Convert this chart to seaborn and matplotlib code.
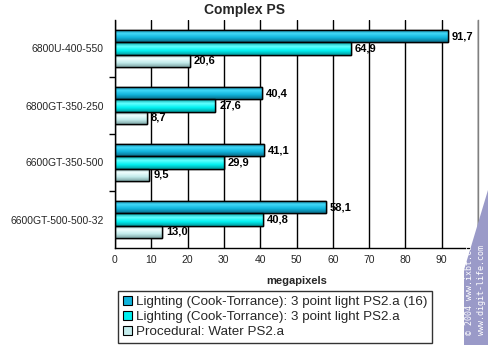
import numpy as np
import pandas as pd
import matplotlib
matplotlib.use("Agg")
import matplotlib.pyplot as plt
import seaborn as sns
from matplotlib.patches import Polygon

categories = ["6800U-400-550", "6800GT-350-250", "6600GT-350-500", "6600GT-500-500-32"]
series_names = ["Lighting (Cook-Torrance): 3 point light PS2.a (16)",
                "Lighting (Cook-Torrance): 3 point light PS2.a",
                "Procedural: Water PS2.a"]
s1 = [91.7, 40.4, 41.1, 58.1]
s2 = [64.9, 27.6, 29.9, 40.8]
s3 = [20.6, 8.7, 9.5, 13.0]
xticks = [0, 10, 20, 30, 40, 50, 60, 70, 80, 90, 100]

colors = ["#10B4DC", "#00F0F0", "#C4ECEC"]
dark = ["#0A6F8C", "#009A9E", "#7FA8A8"]
light = ["#40D8F8", "#60FFFF", "#F0FFFF"]

rows = []
for name, vals in zip(series_names, [s1, s2, s3]):
    for c, v in zip(categories, vals):
        rows.append({"cat": c, "series": name, "val": v})
df = pd.DataFrame(rows)

sns.set_theme(style="white")
plt.rcParams['font.family'] = ['Liberation Sans', 'DejaVu Sans']

fig = plt.figure(figsize=(4.88, 3.45), dpi=100)
ax = fig.add_axes([115/488, 1-248/345, 363/488, 228/345])

sns.barplot(data=df, y="cat", x="val", hue="series", order=categories,
            hue_order=series_names, palette=colors, width=0.64, orient="h",
            edgecolor="black", linewidth=1.0, ax=ax, legend=True, saturation=1)

# gradient fill inside bars
for i, cont in enumerate(ax.containers):
    cmap = matplotlib.colors.LinearSegmentedColormap.from_list(
        "g", [dark[i], light[i], colors[i], dark[i]])
    grad = np.linspace(0, 1, 64).reshape(-1, 1)
    for p in cont.patches:
        x0, y0 = p.get_x(), p.get_y()
        w, h = p.get_width(), p.get_height()
        im = ax.imshow(grad, extent=[x0, x0 + w, y0 + h, y0], aspect="auto",
                       cmap=cmap, zorder=p.get_zorder() + 0.1, origin="upper")
        im.set_clip_path(p)
        ax.add_patch(plt.Rectangle((x0, y0), w, h, fill=False, edgecolor="black",
                                   linewidth=1.0, zorder=p.get_zorder() + 0.2))
    labels = [f"{v:.1f}".replace(".", ",") for v in cont.datavalues]
    ax.bar_label(cont, labels=labels, padding=3, fontsize=8, fontweight="bold",
                 color="black", zorder=10)

ax.set_xlim(0, 100)
ax.set_ylim(3.5, -0.5)
ax.set_xticks(xticks)
ax.set_xticklabels([str(t) for t in xticks], fontsize=7.5)
ax.set_yticks(range(len(categories)))
ax.set_yticklabels(categories, fontsize=7.5)
ax.tick_params(axis="y", length=0, pad=8)
ax.tick_params(axis="x", length=4, direction="inout", width=1, color="black", pad=3)
ax.set_yticks([0.5, 1.5, 2.5], minor=True)
ax.tick_params(axis="y", which="minor", length=4, direction="out", width=1, color="black", left=True)
ax.xaxis.grid(True, color="black", linewidth=1)
ax.set_axisbelow(True)
ax.spines["top"].set_visible(False)
ax.spines["right"].set_color("#808080")
ax.spines["left"].set_color("black")
ax.spines["bottom"].set_color("black")
for s in ax.spines.values():
    s.set_linewidth(1)
ax.set_ylabel("")
ax.set_xlabel("megapixels", fontsize=8, fontweight="bold", labelpad=8)
fig.text(0.5, 1-10/345, "Complex PS", fontsize=10, fontweight="bold", ha="center", va="center")

handles, labs = ax.get_legend_handles_labels()
leg = ax.legend(handles, labs, loc="upper left", bbox_to_anchor=(118/488, 1-291/345),
                bbox_transform=fig.transFigure, frameon=True, fontsize=9.6,
                handlelength=0.7, handleheight=0.7, handletextpad=0.3,
                borderpad=0.35, labelspacing=0.2, fancybox=False, borderaxespad=0)
leg.get_frame().set_edgecolor("black")
leg.get_frame().set_linewidth(1)
for h in leg.legend_handles:
    h.set_edgecolor("black")
    h.set_linewidth(0.8)

# watermark
poly = Polygon([[464/488, 0], [488/488, 0], [488/488, 1-190/345], [464/488, 1-270/345]],
               closed=True, transform=fig.transFigure, facecolor="#9A9AC8", edgecolor="none",
               zorder=0)
fig.patches.append(poly)
fig.text(470/488, 10/345, "© 2004 www.ixbt.com", rotation=90, color="white", fontsize=6,
         family="DejaVu Sans Mono", ha="center", va="bottom")
fig.text(482/488, 10/345, "www.digit-life.com", rotation=90, color="white", fontsize=6,
         family="DejaVu Sans Mono", ha="center", va="bottom")

fig.savefig("out.png", dpi=100)
